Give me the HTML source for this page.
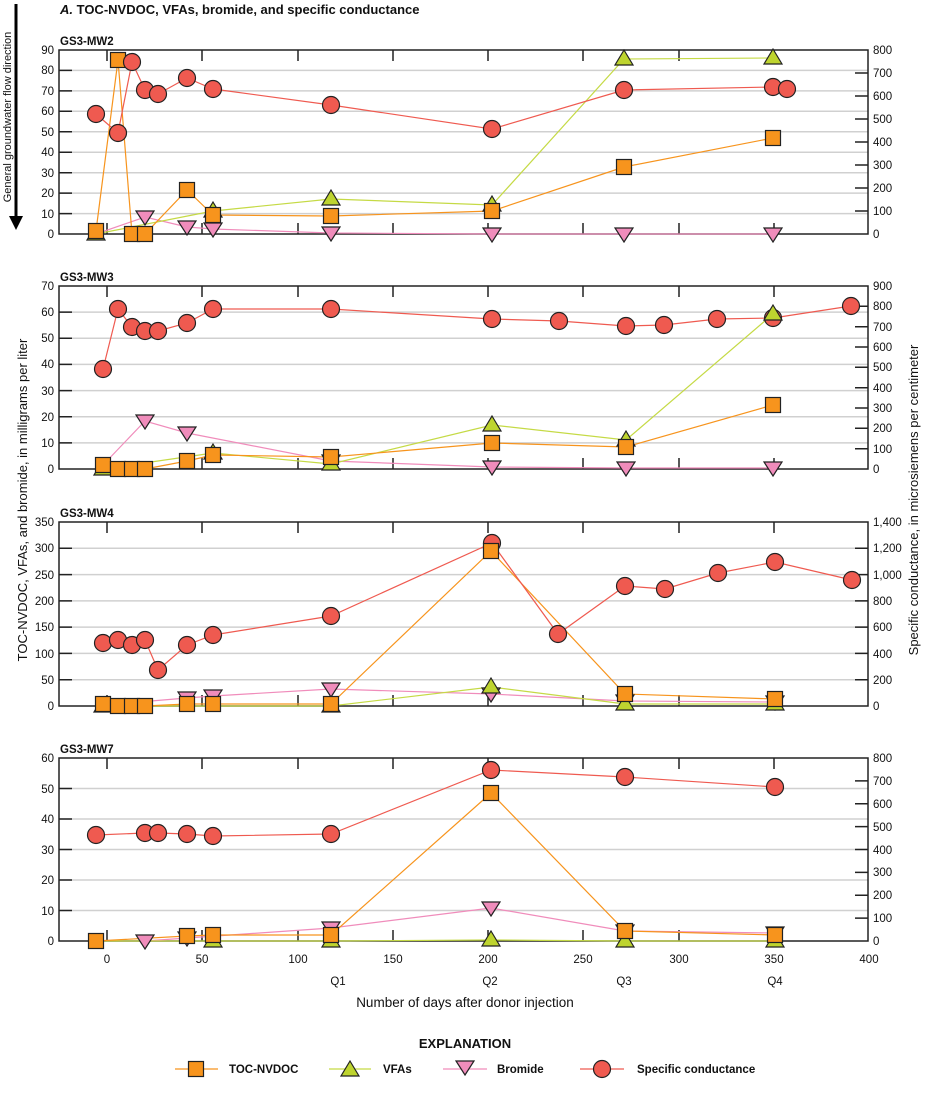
<!DOCTYPE html>
<html><head><meta charset="utf-8"><style>
body{margin:0;background:#fff}
svg{display:block;font-family:"Liberation Sans",Arial,sans-serif}
.t{font-size:11.5px;fill:#111}
.b{font-weight:bold}
</style></head><body>
<svg width="929" height="1106" viewBox="0 0 929 1106" xmlns="http://www.w3.org/2000/svg">
<defs>
<g id="sq"><rect x="-7.5" y="-7.5" width="15" height="15" fill="#F7941D" stroke="#222" stroke-width="1.2"/></g>
<g id="tr"><polygon points="0,-9 9,6 -9,6" fill="#BED42F" stroke="#222" stroke-width="1.2"/></g>
<g id="dt"><polygon points="0,8 9,-6 -9,-6" fill="#F08CBB" stroke="#222" stroke-width="1.2"/></g>
<g id="ci"><circle r="8.5" fill="#EF5A50" stroke="#222" stroke-width="1.2"/></g>
</defs>
<text x="60" y="14" class="t b" style="font-size:13px"><tspan font-style="italic">A.</tspan> TOC-NVDOC, VFAs, bromide, and specific conductance</text>
<!-- flow arrow -->
<line x1="16" y1="4" x2="16" y2="218" stroke="#000" stroke-width="3"/>
<polygon points="9,216 23,216 16,230" fill="#000"/>
<text transform="translate(11,117) rotate(-90)" text-anchor="middle" class="t" style="font-size:11px">General groundwater flow direction</text>
<text transform="translate(27,500) rotate(-90)" text-anchor="middle" class="t" style="font-size:13px">TOC-NVDOC, VFAs, and bromide, in milligrams per liter</text>
<text transform="translate(918,500) rotate(-90)" text-anchor="middle" class="t" style="font-size:13px">Specific conductance, in microsiemens per centimeter</text>

<!-- Panel frames/grid -->
<g stroke="#d0d0d0" stroke-width="1.5">
<!-- P1 -->
<line x1="59" x2="868" y1="70.4" y2="70.4"/><line x1="59" x2="868" y1="90.9" y2="90.9"/><line x1="59" x2="868" y1="111.3" y2="111.3"/><line x1="59" x2="868" y1="131.8" y2="131.8"/><line x1="59" x2="868" y1="152.2" y2="152.2"/><line x1="59" x2="868" y1="172.7" y2="172.7"/><line x1="59" x2="868" y1="193.1" y2="193.1"/><line x1="59" x2="868" y1="213.6" y2="213.6"/>
<!-- P2 -->
<line x1="59" x2="868" y1="312.1" y2="312.1"/><line x1="59" x2="868" y1="338.3" y2="338.3"/><line x1="59" x2="868" y1="364.4" y2="364.4"/><line x1="59" x2="868" y1="390.6" y2="390.6"/><line x1="59" x2="868" y1="416.7" y2="416.7"/><line x1="59" x2="868" y1="442.9" y2="442.9"/>
<!-- P3 -->
<line x1="59" x2="868" y1="548.3" y2="548.3"/><line x1="59" x2="868" y1="574.6" y2="574.6"/><line x1="59" x2="868" y1="600.9" y2="600.9"/><line x1="59" x2="868" y1="627.1" y2="627.1"/><line x1="59" x2="868" y1="653.4" y2="653.4"/><line x1="59" x2="868" y1="679.7" y2="679.7"/>
<!-- P4 -->
<line x1="59" x2="868" y1="788.5" y2="788.5"/><line x1="59" x2="868" y1="819" y2="819"/><line x1="59" x2="868" y1="849.5" y2="849.5"/><line x1="59" x2="868" y1="880" y2="880"/><line x1="59" x2="868" y1="910.5" y2="910.5"/>
</g>
<g fill="none" stroke="#222" stroke-width="1.5">
<rect x="59" y="50" width="809" height="184"/>
<rect x="59" y="286" width="809" height="183"/>
<rect x="59" y="522" width="809" height="184"/>
<rect x="59" y="758" width="809" height="183"/>
</g>
<!-- x ticks -->
<g stroke="#222" stroke-width="1.5">
<path d="M107 50v11M202 50v11M298 50v11M393 50v11M488 50v11M583 50v11M679 50v11M774 50v11M107 234v-11M202 234v-11M298 234v-11M393 234v-11M488 234v-11M583 234v-11M679 234v-11M774 234v-11"/>
<path d="M107 286v11M202 286v11M298 286v11M393 286v11M488 286v11M583 286v11M679 286v11M774 286v11M107 469v-11M202 469v-11M298 469v-11M393 469v-11M488 469v-11M583 469v-11M679 469v-11M774 469v-11"/>
<path d="M107 522v11M202 522v11M298 522v11M393 522v11M488 522v11M583 522v11M679 522v11M774 522v11M107 706v-11M202 706v-11M298 706v-11M393 706v-11M488 706v-11M583 706v-11M679 706v-11M774 706v-11"/>
<path d="M107 758v11M202 758v11M298 758v11M393 758v11M488 758v11M583 758v11M679 758v11M774 758v11M107 941v-11M202 941v-11M298 941v-11M393 941v-11M488 941v-11M583 941v-11M679 941v-11M774 941v-11"/>
<!-- y ticks left -->
<path d="M59 70.4h13M59 90.9h13M59 111.3h13M59 131.8h13M59 152.2h13M59 172.7h13M59 193.1h13M59 213.6h13"/>
<path d="M59 312.1h13M59 338.3h13M59 364.4h13M59 390.6h13M59 416.7h13M59 442.9h13"/>
<path d="M59 548.3h13M59 574.6h13M59 600.9h13M59 627.1h13M59 653.4h13M59 679.7h13"/>
<path d="M59 788.5h13M59 819h13M59 849.5h13M59 880h13M59 910.5h13"/>
<!-- right ticks -->
<path d="M868 73h-13M868 96h-13M868 119h-13M868 142h-13M868 165h-13M868 188h-13M868 211h-13"/>
<path d="M868 306.3h-13M868 326.7h-13M868 347h-13M868 367.3h-13M868 387.7h-13M868 408h-13M868 428.3h-13M868 448.7h-13"/>
<path d="M868 548.3h-13M868 574.6h-13M868 600.9h-13M868 627.1h-13M868 653.4h-13M868 679.7h-13"/>
<path d="M868 780.9h-13M868 803.8h-13M868 826.6h-13M868 849.5h-13M868 872.4h-13M868 895.3h-13M868 918.1h-13"/>
</g>
<!-- panel titles -->
<text x="60" y="45" class="t b">GS3-MW2</text>
<text x="60" y="281" class="t b">GS3-MW3</text>
<text x="60" y="517" class="t b">GS3-MW4</text>
<text x="60" y="753" class="t b">GS3-MW7</text>
<!-- left labels -->
<g class="t" text-anchor="end">
<text x="54" y="54">90</text><text x="54" y="74">80</text><text x="54" y="95">70</text><text x="54" y="115">60</text><text x="54" y="136">50</text><text x="54" y="156">40</text><text x="54" y="177">30</text><text x="54" y="197">20</text><text x="54" y="218">10</text><text x="54" y="238">0</text>
<text x="54" y="290">70</text><text x="54" y="316">60</text><text x="54" y="342">50</text><text x="54" y="368">40</text><text x="54" y="395">30</text><text x="54" y="421">20</text><text x="54" y="447">10</text><text x="54" y="473">0</text>
<text x="54" y="526">350</text><text x="54" y="552">300</text><text x="54" y="579">250</text><text x="54" y="605">200</text><text x="54" y="631">150</text><text x="54" y="658">100</text><text x="54" y="684">50</text><text x="54" y="710">0</text>
<text x="54" y="762">60</text><text x="54" y="793">50</text><text x="54" y="823">40</text><text x="54" y="854">30</text><text x="54" y="884">20</text><text x="54" y="915">10</text><text x="54" y="945">0</text>
</g>
<!-- right labels -->
<g class="t">
<text x="873" y="54">800</text><text x="873" y="77">700</text><text x="873" y="100">600</text><text x="873" y="123">500</text><text x="873" y="146">400</text><text x="873" y="169">300</text><text x="873" y="192">200</text><text x="873" y="215">100</text><text x="873" y="238">0</text>
<text x="873" y="290">900</text><text x="873" y="310">800</text><text x="873" y="331">700</text><text x="873" y="351">600</text><text x="873" y="371">500</text><text x="873" y="392">400</text><text x="873" y="412">300</text><text x="873" y="432">200</text><text x="873" y="453">100</text><text x="873" y="473">0</text>
<text x="873" y="526">1,400</text><text x="873" y="552">1,200</text><text x="873" y="579">1,000</text><text x="873" y="605">800</text><text x="873" y="631">600</text><text x="873" y="658">400</text><text x="873" y="684">200</text><text x="873" y="710">0</text>
<text x="873" y="762">800</text><text x="873" y="785">700</text><text x="873" y="808">600</text><text x="873" y="831">500</text><text x="873" y="854">400</text><text x="873" y="876">300</text><text x="873" y="899">200</text><text x="873" y="922">100</text><text x="873" y="945">0</text>
</g>
<!-- x labels -->
<g class="t" text-anchor="middle">
<text x="107" y="963">0</text><text x="202" y="963">50</text><text x="298" y="963">100</text><text x="393" y="963">150</text><text x="488" y="963">200</text><text x="583" y="963">250</text><text x="679" y="963">300</text><text x="774" y="963">350</text><text x="869" y="963">400</text>
<text x="338" y="985">Q1</text><text x="490" y="985">Q2</text><text x="624" y="985">Q3</text><text x="775" y="985">Q4</text>
<text x="465" y="1007" style="font-size:13.5px">Number of days after donor injection</text>
</g>

<!-- series lines -->
<g fill="none" stroke-width="1.2">
<!-- P1 -->
<polyline stroke="#F08CBB" points="96,234 145,217 187,227 213,229 331,233 492,234 624,234 773,234"/>
<polyline stroke="#C5DA45" points="96,234 213,211 331,199 492,205 624,59 773,58"/>
<polyline stroke="#F7941D" points="96,231 118,60 132,234 145,234 187,190 213,215 331,216 492,211 624,167 773,138"/>
<polyline stroke="#EF5A50" points="96,114 118,133 132,62 145,90 158,94 187,78 213,89 331,105 492,129 624,90 773,87 787,89"/>
<!-- P2 -->
<polyline stroke="#F08CBB" points="103,465 145,421 187,433 331,461 492,467 626,468 773,468"/>
<polyline stroke="#C5DA45" points="103,469 213,453 331,464 492,425 626,440 773,314"/>
<polyline stroke="#F7941D" points="103,465 118,469 132,469 145,469 187,461 213,455 331,457 492,443 626,447 773,405"/>
<polyline stroke="#EF5A50" points="103,369 118,309 132,327 145,331 158,331 187,323 213,309 331,309 492,319 559,321 626,326 664,325 717,319 773,318 851,306"/>
<!-- P3 -->
<polyline stroke="#F08CBB" points="103,705 187,698 213,696 331,689 491,694 625,701 775,702"/>
<polyline stroke="#C5DA45" points="103,706 331,706 491,687 625,704 775,704"/>
<polyline stroke="#F7941D" points="103,704 118,706 132,706 145,706 187,704 213,704 331,704 491,551 625,694 775,699"/>
<polyline stroke="#EF5A50" points="103,643 118,640 132,645 145,640 158,670 187,645 213,635 331,616 492,543 558,634 625,586 665,589 718,573 775,562 852,580"/>
<!-- P4 -->
<polyline stroke="#F08CBB" points="145,941 187,938 331,928 491,908 625,931 775,933"/>
<polyline stroke="#C5DA45" points="96,941 213,941 331,941 491,940 625,941 775,941"/>
<polyline stroke="#F7941D" points="96,941 187,936 213,935 331,935 491,793 625,931 775,935"/>
<polyline stroke="#EF5A50" points="96,835 145,833 158,833 187,834 213,836 331,834 491,770 625,777 775,787"/>
</g>

<!-- markers P1 -->
<use href="#dt" x="145" y="217"/><use href="#dt" x="187" y="227"/><use href="#dt" x="213" y="229"/><use href="#dt" x="331" y="233"/><use href="#dt" x="492" y="234"/><use href="#dt" x="624" y="234"/><use href="#dt" x="773" y="234"/>
<use href="#tr" x="96" y="234"/><use href="#tr" x="213" y="211"/><use href="#tr" x="331" y="199"/><use href="#tr" x="492" y="205"/><use href="#tr" x="624" y="59"/><use href="#tr" x="773" y="58"/>
<use href="#sq" x="96" y="231"/><use href="#sq" x="118" y="60"/><use href="#sq" x="132" y="234"/><use href="#sq" x="145" y="234"/><use href="#sq" x="187" y="190"/><use href="#sq" x="213" y="215"/><use href="#sq" x="331" y="216"/><use href="#sq" x="492" y="211"/><use href="#sq" x="624" y="167"/><use href="#sq" x="773" y="138"/>
<use href="#ci" x="96" y="114"/><use href="#ci" x="118" y="133"/><use href="#ci" x="132" y="62"/><use href="#ci" x="145" y="90"/><use href="#ci" x="158" y="94"/><use href="#ci" x="187" y="78"/><use href="#ci" x="213" y="89"/><use href="#ci" x="331" y="105"/><use href="#ci" x="492" y="129"/><use href="#ci" x="624" y="90"/><use href="#ci" x="773" y="87"/><use href="#ci" x="787" y="89"/>
<!-- P2 -->
<use href="#dt" x="145" y="421"/><use href="#dt" x="187" y="433"/><use href="#dt" x="331" y="461"/><use href="#dt" x="492" y="467"/><use href="#dt" x="626" y="468"/><use href="#dt" x="773" y="468"/>
<use href="#tr" x="103" y="469"/><use href="#tr" x="213" y="453"/><use href="#tr" x="331" y="464"/><use href="#tr" x="492" y="425"/><use href="#tr" x="626" y="440"/>
<use href="#sq" x="103" y="465"/><use href="#sq" x="118" y="469"/><use href="#sq" x="132" y="469"/><use href="#sq" x="145" y="469"/><use href="#sq" x="187" y="461"/><use href="#sq" x="213" y="455"/><use href="#sq" x="331" y="457"/><use href="#sq" x="492" y="443"/><use href="#sq" x="626" y="447"/><use href="#sq" x="773" y="405"/>
<use href="#ci" x="103" y="369"/><use href="#ci" x="118" y="309"/><use href="#ci" x="132" y="327"/><use href="#ci" x="145" y="331"/><use href="#ci" x="158" y="331"/><use href="#ci" x="187" y="323"/><use href="#ci" x="213" y="309"/><use href="#ci" x="331" y="309"/><use href="#ci" x="492" y="319"/><use href="#ci" x="559" y="321"/><use href="#ci" x="626" y="326"/><use href="#ci" x="664" y="325"/><use href="#ci" x="717" y="319"/><use href="#ci" x="773" y="318"/><use href="#ci" x="851" y="306"/>
<use href="#tr" x="773" y="314"/>
<!-- P3 -->
<use href="#dt" x="187" y="698"/><use href="#dt" x="213" y="696"/><use href="#dt" x="331" y="689"/><use href="#dt" x="491" y="694"/><use href="#dt" x="625" y="701"/><use href="#dt" x="775" y="702"/>
<use href="#tr" x="103" y="706"/><use href="#tr" x="331" y="706"/><use href="#tr" x="491" y="687"/><use href="#tr" x="625" y="704"/><use href="#tr" x="775" y="704"/>
<use href="#ci" x="103" y="643"/><use href="#ci" x="118" y="640"/><use href="#ci" x="132" y="645"/><use href="#ci" x="145" y="640"/><use href="#ci" x="158" y="670"/><use href="#ci" x="187" y="645"/><use href="#ci" x="213" y="635"/><use href="#ci" x="331" y="616"/><use href="#ci" x="492" y="543"/><use href="#ci" x="558" y="634"/><use href="#ci" x="625" y="586"/><use href="#ci" x="665" y="589"/><use href="#ci" x="718" y="573"/><use href="#ci" x="775" y="562"/><use href="#ci" x="852" y="580"/>
<use href="#sq" x="103" y="704"/><use href="#sq" x="118" y="706"/><use href="#sq" x="132" y="706"/><use href="#sq" x="145" y="706"/><use href="#sq" x="187" y="704"/><use href="#sq" x="213" y="704"/><use href="#sq" x="331" y="704"/><use href="#sq" x="491" y="551"/><use href="#sq" x="625" y="694"/><use href="#sq" x="775" y="699"/>
<!-- P4 -->
<use href="#dt" x="145" y="941"/><use href="#dt" x="187" y="938"/><use href="#dt" x="331" y="928"/><use href="#dt" x="491" y="908"/><use href="#dt" x="625" y="931"/><use href="#dt" x="775" y="933"/>
<use href="#tr" x="213" y="941"/><use href="#tr" x="331" y="941"/><use href="#tr" x="491" y="940"/><use href="#tr" x="625" y="941"/><use href="#tr" x="775" y="941"/>
<use href="#sq" x="96" y="941"/><use href="#sq" x="187" y="936"/><use href="#sq" x="213" y="935"/><use href="#sq" x="331" y="935"/><use href="#sq" x="491" y="793"/><use href="#sq" x="625" y="931"/><use href="#sq" x="775" y="935"/>
<use href="#ci" x="96" y="835"/><use href="#ci" x="145" y="833"/><use href="#ci" x="158" y="833"/><use href="#ci" x="187" y="834"/><use href="#ci" x="213" y="836"/><use href="#ci" x="331" y="834"/><use href="#ci" x="491" y="770"/><use href="#ci" x="625" y="777"/><use href="#ci" x="775" y="787"/>

<!-- legend -->
<text x="465" y="1048" text-anchor="middle" class="t b" style="font-size:13px">EXPLANATION</text>
<g stroke-width="1.2">
<line x1="175" x2="218" y1="1069" y2="1069" stroke="#F7941D"/><use href="#sq" x="196" y="1069"/>
<line x1="329" x2="371" y1="1069" y2="1069" stroke="#C5DA45"/><use href="#tr" x="350" y="1070"/>
<line x1="443" x2="487" y1="1069" y2="1069" stroke="#F08CBB"/><use href="#dt" x="465" y="1067"/>
<line x1="580" x2="624" y1="1069" y2="1069" stroke="#EF5A50"/><use href="#ci" x="602" y="1069"/>
</g>
<g class="t b">
<text x="229" y="1073">TOC-NVDOC</text>
<text x="383" y="1073">VFAs</text>
<text x="497" y="1073">Bromide</text>
<text x="637" y="1073">Specific conductance</text>
</g>
</svg>
</body></html>
